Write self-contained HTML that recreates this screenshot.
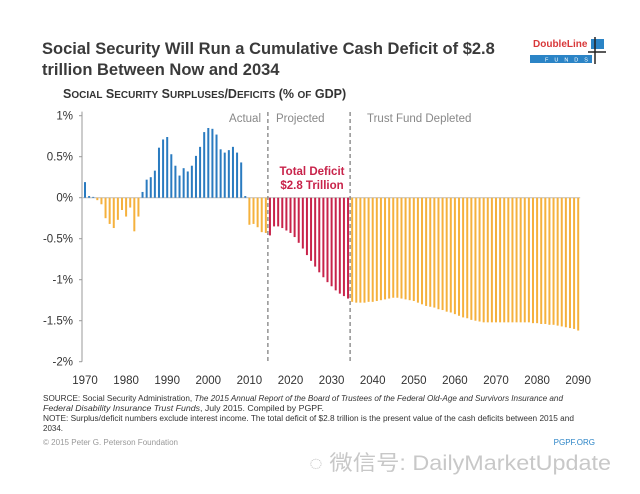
<!DOCTYPE html>
<html><head><meta charset="utf-8"><style>
body{margin:0;width:640px;height:494px;background:#fff;overflow:hidden;font-family:"Liberation Sans","Noto Sans CJK SC",sans-serif;}
svg{position:absolute;left:0;top:0}
</style></head><body>
<svg id="c" width="640" height="494">
<text x="42" y="54" font-size="16.5" font-weight="bold" fill="#3a3a3a">Social Security Will Run a Cumulative Cash Deficit of $2.8</text>
<text x="42" y="75" font-size="16.5" font-weight="bold" fill="#3a3a3a">trillion Between Now and 2034</text>
<text x="63" y="98" font-size="12.5" font-weight="bold" fill="#333">S<tspan font-size="10">OCIAL</tspan> S<tspan font-size="10">ECURITY</tspan> S<tspan font-size="10">URPLUSES</tspan>/D<tspan font-size="10">EFICITS</tspan> (% <tspan font-size="10">OF</tspan> GDP)</text>
<g>
<text x="533" y="47" font-size="10" font-weight="bold" fill="#d8383a">DoubleLine</text>
<rect x="530" y="55" width="62" height="8" fill="#2b84c6"/>
<text x="545" y="61.5" font-size="5.5" fill="#fff" letter-spacing="6">FUNDS</text>
<rect x="591" y="39" width="13" height="10" fill="#2b84c6"/>
<line x1="595" y1="37" x2="595" y2="64" stroke="#222" stroke-width="1.5"/>
<line x1="588" y1="52" x2="606" y2="52" stroke="#222" stroke-width="1.5"/>
</g>
<g id="plot"></g>
<text x="43" y="401" font-size="8" fill="#333" textLength="520" lengthAdjust="spacingAndGlyphs">SOURCE: Social Security Administration, <tspan font-style="italic">The 2015 Annual Report of the Board of Trustees of the Federal Old-Age and Survivors Insurance and</tspan></text>
<text x="43" y="411" font-size="8" fill="#333" font-style="italic" textLength="281" lengthAdjust="spacingAndGlyphs">Federal Disability Insurance Trust Funds<tspan font-style="normal">, July 2015. Compiled by PGPF.</tspan></text>
<text x="43" y="421" font-size="8" fill="#333" textLength="531" lengthAdjust="spacingAndGlyphs">NOTE: Surplus/deficit numbers exclude interest income. The total deficit of $2.8 trillion is the present value of the cash deficits between 2015 and</text>
<text x="43" y="431" font-size="8" fill="#333">2034.</text>
<text x="43" y="445" font-size="8" fill="#999" textLength="135" lengthAdjust="spacingAndGlyphs">© 2015 Peter G. Peterson Foundation</text>
<text x="595" y="445" font-size="8" fill="#2b84c6" text-anchor="end">PGPF.ORG</text>
<text x="309" y="470" font-size="21" fill="#c8c8c8" textLength="302" lengthAdjust="spacingAndGlyphs">◌ 微信号: DailyMarketUpdate</text>
</svg>
<script>
const years=[];for(let y=1970;y<=2090;y++)years.push(y);
const actualVals=[0.19,0.02,0.01,-0.03,-0.08,-0.25,-0.32,-0.37,-0.27,-0.15,-0.23,-0.12,-0.41,-0.23,0.07,0.22,0.25,0.33,0.61,0.71,0.74,0.53,0.39,0.27,0.36,0.32,0.39,0.51,0.62,0.80,0.85,0.84,0.77,0.59,0.55,0.58,0.62,0.55,0.43,0.02,-0.33,-0.32,-0.36,-0.42,-0.43];
const projVals=[-0.46,-0.35,-0.35,-0.37,-0.40,-0.43,-0.48,-0.55,-0.62,-0.70,-0.77,-0.84,-0.91,-0.97,-1.03,-1.08,-1.13,-1.17,-1.20,-1.23];
const depletedVals=[-1.27,-1.28,-1.28,-1.28,-1.27,-1.27,-1.26,-1.25,-1.24,-1.23,-1.22,-1.22,-1.23,-1.24,-1.25,-1.26,-1.28,-1.30,-1.32,-1.33,-1.34,-1.36,-1.37,-1.39,-1.40,-1.42,-1.44,-1.46,-1.47,-1.49,-1.50,-1.51,-1.52,-1.52,-1.52,-1.52,-1.52,-1.52,-1.52,-1.52,-1.52,-1.52,-1.52,-1.52,-1.53,-1.53,-1.54,-1.54,-1.55,-1.55,-1.56,-1.57,-1.58,-1.59,-1.60,-1.62];
const yTicks=[1,0.5,0,-0.5,-1,-1.5,-2];
const yTickLabels=["1%","0.5%","0%","-0.5%","-1%","-1.5%","-2%"];
const xTicks=[1970,1980,1990,2000,2010,2020,2030,2040,2050,2060,2070,2080,2090];
const NS="http://www.w3.org/2000/svg";
const g=document.getElementById('plot');
const X=y=>85+(y-1970)*4.11;
const Y=v=>197.7-v*82;
function el(t,a){const e=document.createElementNS(NS,t);for(const k in a)e.setAttribute(k,a[k]);g.appendChild(e);return e;}
const ax=el('line',{x1:82,y1:Y(1.05),x2:82,y2:Y(-2),stroke:'#999','stroke-width':1});


el('line',{x1:82,y1:Y(0),x2:X(2090)+2,y2:Y(0),stroke:'#bbb','stroke-width':1});
yTicks.forEach((t,i)=>{
 el('line',{x1:79,y1:Y(t),x2:82,y2:Y(t),stroke:'#999'});
 const tx=el('text',{x:73,y:Y(t)+4,'font-size':11.5,fill:'#333','text-anchor':'end'});tx.textContent=yTickLabels[i];
 
 
});
xTicks.forEach(t=>{
 const tx=el('text',{x:X(t),y:384,'font-size':11.5,fill:'#333','text-anchor':'middle'});tx.textContent=t;
 
 
});
const all=actualVals.concat(projVals,depletedVals);
all.forEach((v,i)=>{
 const yr=years[i];
 let col;
 if(i<actualVals.length) col=v>=0?'#2a7bc0':'#f5b13d';
 else if(i<actualVals.length+projVals.length) col='#c8234a';
 else col='#f5b13d';
 const y0=Y(0),y1=Y(v);
 const r=el('rect',{x:X(yr)-1,y:Math.min(y0,y1),width:2,height:Math.max(0.5,Math.abs(y1-y0)),fill:col});
 
 
});
[2014.5,2034.5].forEach(yr=>{
 const l=el('line',{x1:X(yr),y1:112,x2:X(yr),y2:Y(-2),stroke:'#777','stroke-width':1.2,'stroke-dasharray':'4,3'});
 
 
});
[['Actual',261,'end'],['Projected',276,'start'],['Trust Fund Depleted',367,'start']].forEach(a=>{
 const t=el('text',{x:a[1],y:122,'font-size':11.5,fill:'#888','text-anchor':a[2]});t.textContent=a[0];
 
 
});
const t1=el('text',{x:312,y:175,'font-size':11.5,'font-weight':'bold',fill:'#c8234a','text-anchor':'middle'});t1.textContent='Total Deficit';


const t2=el('text',{x:312,y:189,'font-size':11.5,'font-weight':'bold',fill:'#c8234a','text-anchor':'middle'});t2.textContent='$2.8 Trillion';


</script>
</body></html>
